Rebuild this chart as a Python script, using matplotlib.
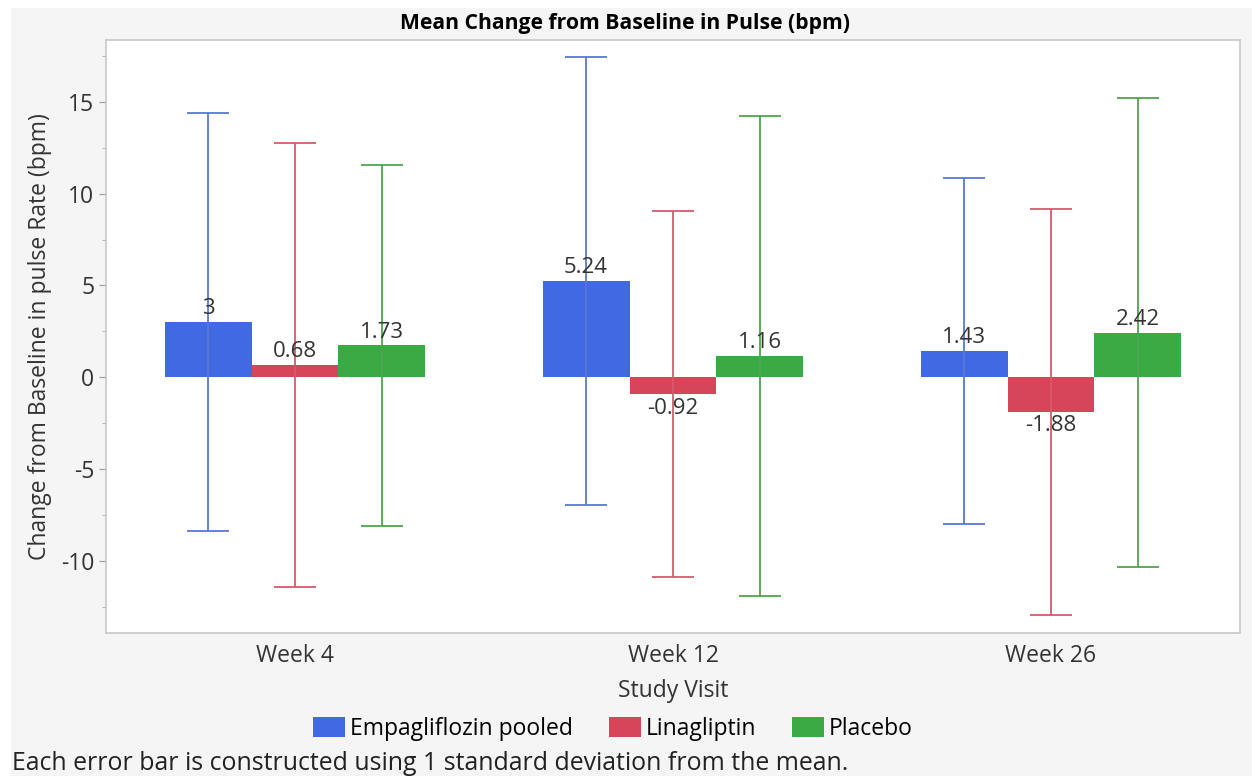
import numpy as np
import matplotlib.pyplot as plt
from matplotlib.patches import Rectangle
from matplotlib.ticker import MultipleLocator

plt.rcParams['font.family'] = ['Open Sans', 'DejaVu Sans']
plt.rcParams['axes.unicode_minus'] = False

# Data
visits = ['Week 4', 'Week 12', 'Week 26']
groups = ['Empagliflozin pooled', 'Linagliptin', 'Placebo']
means = {
    'Empagliflozin pooled': [3.00, 5.24, 1.43],
    'Linagliptin': [0.68, -0.92, -1.88],
    'Placebo': [1.73, 1.16, 2.42],
}
sds = {
    'Empagliflozin pooled': [11.4, 12.2, 9.45],
    'Linagliptin': [12.1, 9.95, 11.05],
    'Placebo': [9.85, 13.05, 12.78],
}
bar_colors = ['#4169e1', '#d6455a', '#3aaa45']
err_colors = ['#5878d8', '#d45a6c', '#4ea64e']

fig = plt.figure(figsize=(12.52, 7.76), dpi=100, facecolor='white')
fig.patches.append(Rectangle((11 / 1252, 0), 1, 1 - 8 / 776, transform=fig.transFigure,
                             facecolor='#f5f5f5', edgecolor='none', zorder=-10))
ax = fig.add_axes([106 / 1252, 1 - 633 / 776, (1240 - 106) / 1252, (633 - 40) / 776])
ax.set_facecolor('white')

x = np.arange(len(visits))
width = 0.23
for i, g in enumerate(groups):
    xs = x + (i - 1) * width
    ax.bar(xs, means[g], width, color=bar_colors[i], label=g, zorder=2)
    ax.errorbar(xs, means[g], yerr=sds[g], fmt='none', ecolor=err_colors[i],
                elinewidth=1.3, capsize=15, capthick=1.3, zorder=3)
    for xi, m in zip(xs, means[g]):
        lab = f'{m:g}'
        if m >= 0:
            ax.text(xi, m + 0.15, lab, ha='center', va='bottom', fontsize=16, color='#333333', zorder=4)
        else:
            ax.text(xi, m - 0.2, lab, ha='center', va='top', fontsize=16, color='#333333', zorder=4)

ax.set_xlim(-0.5, 2.5)
ax.set_ylim(-13.93, 18.37)
ax.set_xticks(x)
ax.set_xticklabels(visits, fontsize=16.5, color='#333333')
ax.yaxis.set_major_locator(MultipleLocator(5))
ax.yaxis.set_minor_locator(MultipleLocator(2.5))
ax.tick_params(axis='y', which='major', labelsize=16.5, labelcolor='#333333', color='#999999', length=5)
ax.tick_params(axis='y', which='minor', color='#aaaaaa', length=3)
ax.tick_params(axis='x', length=0, pad=8)
for s in ax.spines.values():
    s.set_color('#c8c8c8')
    s.set_linewidth(1.2)

ax.set_xlabel('Study Visit', fontsize=16.5, color='#333333', labelpad=8)
ax.set_ylabel('Change from Baseline in pulse Rate (bpm)', fontsize=16.5, color='#333333', labelpad=6)
fig.text(625 / 1252, 1 - 23 / 776, 'Mean Change from Baseline in Pulse (bpm)',
         fontsize=15.2, fontweight='bold', ha='center', va='center')

fig.legend(loc='center', bbox_to_anchor=(613 / 1252, 1 - 729 / 776), ncol=3, frameon=False,
           fontsize=16.5, handlelength=1.39, handleheight=0.92, handletextpad=0.22, columnspacing=1.57)
fig.text(12 / 1252, 1 - 763 / 776, 'Each error bar is constructed using 1 standard deviation from the mean.',
         fontsize=17.9, color='#222222', va='center')

fig.savefig('out.png', dpi=100, facecolor=fig.get_facecolor())
